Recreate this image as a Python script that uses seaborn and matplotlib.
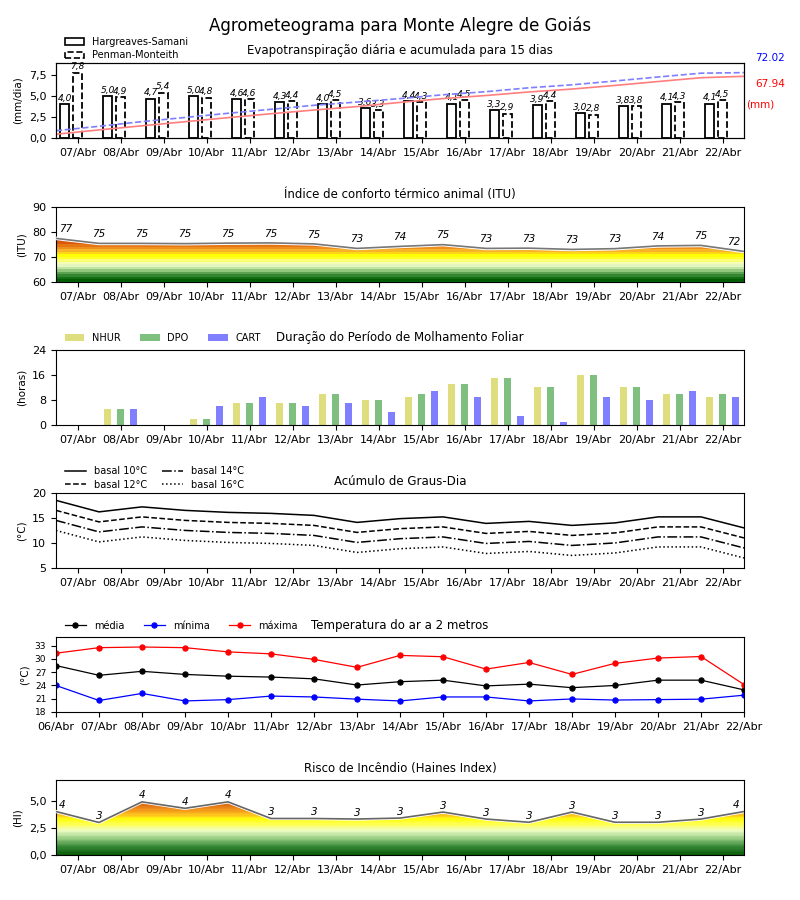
import numpy as np
import pandas as pd
import matplotlib
matplotlib.use("Agg")
import matplotlib.pyplot as plt
import seaborn as sns
from matplotlib.colors import LinearSegmentedColormap, Normalize
from matplotlib.patches import Polygon, Patch
from matplotlib.lines import Line2D
from matplotlib.ticker import FuncFormatter
import matplotlib.patheffects as pe

# ---------------- data ----------------
tick_dates = ['07/Abr', '08/Abr', '09/Abr', '10/Abr', '11/Abr', '12/Abr', '13/Abr', '14/Abr',
              '15/Abr', '16/Abr', '17/Abr', '18/Abr', '19/Abr', '20/Abr', '21/Abr', '22/Abr']
temp_dates = ['06/Abr', '07/Abr', '08/Abr', '09/Abr', '10/Abr', '11/Abr', '12/Abr', '13/Abr', '14/Abr',
              '15/Abr', '16/Abr', '17/Abr', '18/Abr', '19/Abr', '20/Abr', '21/Abr', '22/Abr']

et_hs = [4.0, 5.0, 4.7, 5.0, 4.6, 4.3, 4.0, 3.6, 4.4, 4.1, 3.3, 3.9, 3.0, 3.8, 4.1, 4.1]
et_pm = [7.8, 4.9, 5.4, 4.8, 4.6, 4.4, 4.5, 3.3, 4.3, 4.5, 2.9, 4.4, 2.8, 3.8, 4.3, 4.5]
acc_pm = [8.0, 12.9, 18.0, 22.6, 27.2, 31.6, 36.0, 39.6, 43.4, 47.6, 51.0, 55.3, 58.6, 62.8, 67.2, 71.4, 72.02]
acc_hs = [4.1, 8.9, 13.4, 17.9, 22.4, 26.7, 30.8, 34.6, 39.2, 43.4, 46.8, 50.7, 53.9, 57.9, 62.2, 66.4, 67.94]

itu_vals = [77.4, 75.4, 75.4, 75.3, 75.5, 75.6, 75.2, 73.4, 74.2, 74.9, 73.4, 73.5, 73.0, 73.3, 74.4, 74.6, 72.2]
itu_labels = [77, 75, 75, 75, 75, 75, 75, 73, 74, 75, 73, 73, 73, 73, 74, 75, 72]

nhur = [0, 5, 0, 2, 7, 7, 10, 8, 9, 13, 15, 12, 16, 12, 10, 9]
dpo = [0, 5, 0, 2, 7, 7, 10, 8, 10, 13, 15, 12, 16, 12, 10, 10]
cart = [0, 5, 0, 6, 9, 6, 7, 4, 11, 9, 3, 1, 9, 8, 11, 9]

gd10 = [18.5, 16.2, 17.2, 16.5, 16.1, 15.9, 15.5, 14.1, 14.85, 15.2, 13.9, 14.3, 13.5, 14.0, 15.2, 15.2, 13.0]
gd12 = [16.5, 14.2, 15.2, 14.5, 14.1, 13.9, 13.5, 12.1, 12.85, 13.2, 11.9, 12.3, 11.5, 12.0, 13.2, 13.2, 11.0]
gd14 = [14.5, 12.2, 13.2, 12.5, 12.1, 11.9, 11.5, 10.1, 10.85, 11.2, 9.9, 10.3, 9.5, 10.0, 11.2, 11.2, 9.0]
gd16 = [12.5, 10.2, 11.2, 10.5, 10.1, 9.9, 9.5, 8.1, 8.85, 9.2, 7.9, 8.3, 7.5, 8.0, 9.2, 9.2, 7.0]

t_mean = [28.5, 26.3, 27.2, 26.5, 26.1, 25.9, 25.5, 24.1, 24.85, 25.2, 23.9, 24.3, 23.5, 24.0, 25.2, 25.2, 23.0]
t_min = [24.0, 20.6, 22.2, 20.5, 20.8, 21.6, 21.4, 20.9, 20.5, 21.4, 21.4, 20.5, 20.95, 20.7, 20.8, 20.9, 21.8]
t_max = [31.3, 32.55, 32.7, 32.55, 31.6, 31.15, 29.9, 28.1, 30.8, 30.5, 27.7, 29.2, 26.5, 29.0, 30.2, 30.55, 24.2]

haines_vals = [4.05, 3.03, 4.95, 4.35, 4.95, 3.4, 3.4, 3.35, 3.44, 4.0, 3.35, 3.05, 4.0, 3.05, 3.05, 3.35, 4.05]
haines_labels = [4, 3, 4, 4, 4, 3, 3, 3, 3, 3, 3, 3, 3, 3, 3, 3, 4]

# ---------------- helpers ----------------
comma = FuncFormatter(lambda v, p: f"{v:.1f}".replace('.', ','))
TICK_FS = 8
TITLE_FS = 8.5
LAB_FS = 7.5

fig = plt.figure(figsize=(8, 9), dpi=100)
fig.suptitle("Agrometeograma para Monte Alegre de Goiás", fontsize=12, y=0.982)

L, W, H = 0.07, 0.86, 0.0835
bottoms = [0.8467, 0.6867, 0.5278, 0.3689, 0.2089, 0.05]
axes = [fig.add_axes([L, b, W, H]) for b in bottoms]

n_days = len(tick_dates)
xc = np.arange(n_days) + 0.5          # category centers
xp = np.arange(len(temp_dates))       # point positions 0..16


def day_axis(ax):
    ax.set_xlim(0, 16)
    ax.set_xticks(xc)
    ax.set_xticklabels(tick_dates, fontsize=TICK_FS)
    ax.tick_params(axis='y', labelsize=TICK_FS)


def gradient_fill(ax, x, y, ymin, ymax, stops, nlev):
    cmap = LinearSegmentedColormap.from_list(
        "g", [((s - ymin) / (ymax - ymin), c) for s, c in stops])
    grad = np.linspace(ymin, ymax, nlev).reshape(-1, 1)
    im = ax.imshow(grad, extent=[x[0], x[-1], ymin, ymax], origin='lower',
                   aspect='auto', cmap=cmap, norm=Normalize(ymin, ymax),
                   interpolation='nearest', zorder=1)
    verts = np.vstack([np.c_[x, y], [[x[-1], ymin], [x[0], ymin]]])
    patch = Polygon(verts, closed=True, facecolor='none', edgecolor='none')
    ax.add_patch(patch)
    im.set_clip_path(patch)


def point_labels(ax, x, y, labels, dy=2):
    n = len(x)
    for i, (xi, yi, lab) in enumerate(zip(x, y, labels)):
        ha, dx = 'center', 0
        if i == 0:
            ha, dx = 'left', 2
        elif i == n - 1:
            ha, dx = 'right', -3
        ax.annotate(str(lab), (xi, yi), xytext=(dx, dy), textcoords='offset points',
                    ha=ha, va='bottom', fontsize=7.5, style='italic')


# ---------------- Panel 1: ET ----------------
ax = axes[0]
bw = 0.2
ax.bar(xc - 0.3, et_hs, width=bw, fill=False, edgecolor='black', linewidth=1.3, zorder=3)
ax.bar(xc, et_pm, width=bw, fill=False, edgecolor='black', linewidth=1.3, linestyle='--', zorder=3)
for xi, v in zip(xc - 0.3, et_hs):
    ax.text(xi, v + 0.15, f"{v:.1f}".replace('.', ','), ha='center', va='bottom', fontsize=6.5, style='italic')
for xi, v in zip(xc, et_pm):
    ax.text(xi, v + 0.15, f"{v:.1f}".replace('.', ','), ha='center', va='bottom', fontsize=6.5, style='italic')
ax.set_ylim(0, max(et_pm) * 1.15)
ax.set_yticks([0, 2.5, 5.0, 7.5])
ax.yaxis.set_major_formatter(comma)
ax.set_ylabel("(mm/dia)", fontsize=LAB_FS)
ax.set_title("Evapotranspiração diária e acumulada para 15 dias", fontsize=TITLE_FS)
day_axis(ax)
ax2 = ax.twinx()
xacc = np.linspace(0, 16, len(acc_pm))
sns.lineplot(x=xacc, y=acc_pm, ax=ax2, color='#7f7fff', linestyle='--', linewidth=1.2)
sns.lineplot(x=xacc, y=acc_hs, ax=ax2, color='#ff7f7f', linewidth=1.2)
ax2.set_ylim(0, max(acc_pm) * 1.15)
ax2.set_yticks([])
ax2.set_xlim(0, 16)
ax.text(1.016, 1.06, f"{acc_pm[-1]:.2f}", transform=ax.transAxes, color='blue', fontsize=7.5, va='center')
ax.text(1.016, 0.72, f"{acc_hs[-1]:.2f}", transform=ax.transAxes, color='red', fontsize=7.5, va='center')
ax.text(1.003, 0.44, "(mm)", transform=ax.transAxes, color='red', fontsize=7.5, va='center')
h1 = [Patch(facecolor='white', edgecolor='black', linewidth=1.2),
      Patch(facecolor='white', edgecolor='black', linewidth=1.2, linestyle='--')]
ax.legend(h1, ["Hargreaves-Samani", "Penman-Monteith"], loc='upper left',
          bbox_to_anchor=(0.0, 1.46), frameon=False, fontsize=7, handlelength=2.0,
          labelspacing=0.35)

# ---------------- Panel 2: ITU ----------------
ax = axes[1]
itu_stops = [(60, '#005c00'), (61.5, '#1f7a1f'), (63, '#5aa050'), (64.5, '#a6d58e'),
             (66, '#e4f7c2'), (67.5, '#f8ffb0'), (69, '#ffff33'), (70.5, '#ffff00'),
             (71.5, '#ffd21a'), (72.5, '#f7ae2a'), (73.5, '#ee8c1e'), (74.5, '#e57614'),
             (75.5, '#dc5a0c'), (76.5, '#d42a04'), (77.5, '#cc0000'), (90, '#990000')]
gradient_fill(ax, xp, itu_vals, 60, 90, itu_stops, 30)
sns.lineplot(x=xp, y=itu_vals, ax=ax, color='#777777', linewidth=1.2, zorder=4,
             path_effects=[pe.Stroke(linewidth=2.6, foreground='white'), pe.Normal()])
point_labels(ax, xp, itu_vals, itu_labels, dy=3)
ax.set_ylim(60, 90)
ax.set_yticks([60, 70, 80, 90])
ax.set_ylabel("(ITU)", fontsize=LAB_FS)
ax.set_title("Índice de conforto térmico animal (ITU)", fontsize=TITLE_FS)
day_axis(ax)

# ---------------- Panel 3: Molhamento ----------------
ax = axes[2]
bw3 = 0.16
ax.bar(xc - 0.3, nhur, width=bw3, color='y', alpha=0.5, label='NHUR')
ax.bar(xc, dpo, width=bw3, color='g', alpha=0.5, label='DPO')
ax.bar(xc + 0.3, cart, width=bw3, color='b', alpha=0.5, label='CART')
ax.set_ylim(0, 24)
ax.set_yticks([0, 8, 16, 24])
ax.set_ylabel("(horas)", fontsize=LAB_FS)
ax.set_title("Duração do Período de Molhamento Foliar", fontsize=TITLE_FS)
ax.legend(loc='upper left', bbox_to_anchor=(0.0, 1.34), ncol=3, frameon=False,
          fontsize=7, handlelength=2.0, columnspacing=2.0)
day_axis(ax)

# ---------------- Panel 4: Graus-dia ----------------
ax = axes[3]
sns.lineplot(x=xp, y=gd10, ax=ax, color='black', linestyle='-', linewidth=1.1)
sns.lineplot(x=xp, y=gd12, ax=ax, color='black', linestyle='--', linewidth=1.1)
sns.lineplot(x=xp, y=gd14, ax=ax, color='black', linestyle='-.', linewidth=1.1)
sns.lineplot(x=xp, y=gd16, ax=ax, color='black', linestyle=':', linewidth=1.1)
h4 = [Line2D([], [], color='black', ls=s, lw=1.1) for s in ['-', '--', '-.', ':']]
ax.legend(h4, ["basal 10°C", "basal 12°C", "basal 14°C", "basal 16°C"], loc='upper left',
          bbox_to_anchor=(0.0, 1.47), ncol=2, frameon=False, fontsize=7,
          handlelength=2.2, labelspacing=0.35, columnspacing=1.5)
ax.set_ylim(5, 20)
ax.set_yticks([5, 10, 15, 20])
ax.set_ylabel("(°C)", fontsize=LAB_FS)
ax.set_title("Acúmulo de Graus-Dia", fontsize=TITLE_FS)
day_axis(ax)

# ---------------- Panel 5: Temperatura ----------------
ax = axes[4]
temp_df = pd.DataFrame({'x': xp, 'média': t_mean, 'mínima': t_min, 'máxima': t_max})
for col, c in [('média', 'black'), ('mínima', 'blue'), ('máxima', 'red')]:
    sns.lineplot(data=temp_df, x='x', y=col, ax=ax, color=c, marker='o', markersize=3.8,
                 markeredgecolor=c, linewidth=0.9, label=col)
ax.set_xlim(0, 16)
ax.set_ylim(18, 35)
ax.set_yticks([18, 21, 24, 27, 30, 33])
ax.set_xticks(xp)
ax.set_xticklabels(temp_dates, fontsize=TICK_FS)
ax.tick_params(axis='y', labelsize=6.5)
ax.set_xlabel("")
ax.set_ylabel("(°C)", fontsize=LAB_FS)
ax.set_title("Temperatura do ar a 2 metros", fontsize=TITLE_FS)
ax.legend(loc='upper left', bbox_to_anchor=(0.0, 1.33), ncol=3, frameon=False,
          fontsize=7, handlelength=2.2, columnspacing=2.0)

# ---------------- Panel 6: Haines ----------------
ax = axes[5]
haines_stops = [(0, '#0a5f0a'), (0.8, '#3d8d3d'), (1.6, '#a5d68d'), (2.2, '#eefcc8'),
                (2.8, '#ffff55'), (3.3, '#ffff10'), (3.7, '#ffc21e'), (4.3, '#ee8a1a'),
                (5.0, '#cc5a10'), (7.0, '#aa3000')]
gradient_fill(ax, xp, haines_vals, 0, 7, haines_stops, 60)
sns.lineplot(x=xp, y=haines_vals, ax=ax, color='#666666', linewidth=1.2, zorder=4,
             path_effects=[pe.Stroke(linewidth=2.4, foreground='white'), pe.Normal()])
point_labels(ax, xp, haines_vals, haines_labels, dy=1)
ax.set_ylim(0, 7)
ax.set_yticks([0, 2.5, 5.0])
ax.yaxis.set_major_formatter(comma)
ax.set_ylabel("(HI)", fontsize=LAB_FS)
ax.set_title("Risco de Incêndio (Haines Index)", fontsize=TITLE_FS)
day_axis(ax)

for a in axes:
    a.set_xlabel("")

fig.savefig("out.png", dpi=100)
